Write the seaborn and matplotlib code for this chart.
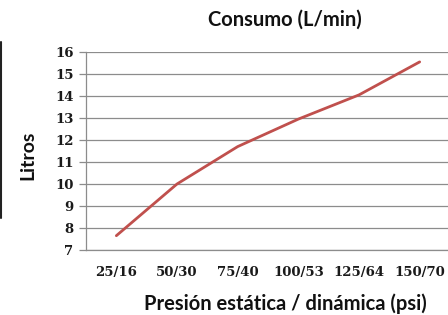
import matplotlib
matplotlib.use("Agg")
import matplotlib.pyplot as plt
from matplotlib.lines import Line2D
import seaborn as sns
import pandas as pd

# data
presion = ['25/16', '50/30', '75/40', '100/53', '125/64', '150/70']
litros = [7.65, 10.0, 11.7, 12.95, 14.05, 15.55]

df = pd.DataFrame({'presion': presion, 'litros': litros})

sns.set_style("white")
plt.rcParams['font.family'] = ['Lato', 'DejaVu Sans']

fig = plt.figure(figsize=(4.48, 3.15), dpi=100)
ax = fig.add_axes([86 / 448, 65 / 315, 364 / 448, 198 / 315])

sns.lineplot(data=df, x='presion', y='litros', color='#C0504D', linewidth=2.0,
             sort=False, ax=ax)

ax.set_xlim(-0.5, len(presion) - 0.5)
ax.set_ylim(7, 16)
ax.set_yticks(range(7, 17))
ax.yaxis.grid(True, color='#8c8c8c', linewidth=0.9)
ax.xaxis.grid(False)

for s in ['top', 'right']:
    ax.spines[s].set_visible(False)
for s in ['left', 'bottom']:
    ax.spines[s].set_color('#8c8c8c')
    ax.spines[s].set_linewidth(0.9)

ax.tick_params(axis='y', which='major', left=True, length=5, color='#8c8c8c',
               width=0.9, pad=4)
ax.tick_params(axis='x', bottom=False, pad=8)
for lab in ax.get_xticklabels() + ax.get_yticklabels():
    lab.set_fontfamily('DejaVu Serif')
    lab.set_fontweight('bold')
    lab.set_fontsize(9.5)
    lab.set_color('#1a1a1a')

ax.set_xlabel('')
ax.set_ylabel('')
fig.text(28 / 448, 1 - 155 / 315, 'Litros', rotation=90, ha='center', va='center',
         fontsize=14, fontweight='bold', color='#111111')
fig.text(285 / 448, 1 - 304 / 315, 'Presión estática / dinámica (psi)', ha='center',
         va='center', fontsize=14.5, fontweight='bold', color='#111111')
fig.text(285 / 448, 1 - 20 / 315, 'Consumo (L/min)', ha='center', va='center',
         fontsize=14.5, fontweight='bold', color='#111111')

# dark border line at the left edge of the screenshot
fig.add_artist(Line2D([1 / 448, 1 / 448], [1 - 42 / 315, 1 - 218 / 315],
                      color='#222222', linewidth=1.5, transform=fig.transFigure))

fig.savefig('out.png', dpi=100)
